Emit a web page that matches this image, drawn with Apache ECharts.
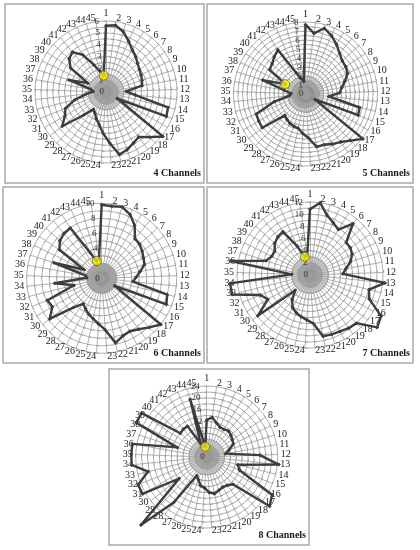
<!DOCTYPE html>
<html><head><meta charset="utf-8">
<script src="https://cdn.jsdelivr.net/npm/echarts/dist/echarts.min.js"></script>
<style>html,body{margin:0;padding:0;background:#fff}#c{width:420px;height:550px}</style>
</head><body><div id="c"></div>
<script>
const categories = ['1','2','3','4','5','6','7','8','9','10','11','12','13','14','15','16','17','18','19','20','21','22','23','24','25','26','27','28','29','30','31','32','33','34','35','36','37','38','39','40','41','42','43','44','45'];

const ch4 = [5.6,5.7,5.3,4.7,4.2,3.9,3.6,3.4,3.3,3.2, 3.1,1.7,2.5,5.4,5.5,1.1,6.1,5.3,4.7,4.9, 5.2,5.4,4.3,3.5,2.8,2.4,2.0,1.8,2.7,4.7, 4.0,3.7,2.7,1.7,1.1,1.3,3.3,1.7,3.6,4.2, 4.4,3.7,2.5,1.8,1.4];
const ch5 = [7.7,6.8,7.6,7.1,6.5,5.9,5.5,5.4,5.2,4.6, 4.1,3.8,2.6,6.2,6.3,1.2,8.1,7.2,6.6,6.3, 6.0,6.0,4.9,4.4,3.9,3.8,3.7,3.5,3.3,6.1, 6.0,5.9,3.6,1.8,1.6,2.4,5.0,2.5,4.8,5.0, 5.4,5.8,2.6,1.8,1.4];
const ch6 = [9.8,9.7,9.9,9.3,8.3,6.9,6.8,6.5,6.2,6.0, 5.2,4.6,4.2,9.0,9.3,2.0,10.0,9.1,8.4,8.0, 8.2,8.8,6.9,6.1,5.5,5.1,4.6,4.2,5.4,8.8, 7.6,7.8,3.8,6.3,2.0,2.2,6.7,2.6,6.8,7.5, 7.8,7.9,3.7,2.4,2.6];
const ch7 = [10.8,12.0,10.2,9.4,8.8,11.0,8.0,8.0,7.7,7.0, 6.0,5.4,12.4,10.0,10.5,13.5,14.0,11.0,10.8,10.5, 10.4,10.3,8.0,7.4,7.0,6.6,6.1,5.0,3.5,10.9, 8.0,8.8,13.2,13.2,3.0,13.2,7.6,7.0,7.0,7.8, 8.2,8.4,5.2,3.1,3.3];
const ch8 = [12.5,13.5,12.0,11.0,11.0,11.5,11.0,10.5,10.0,8.0, 6.5,18.0,24.5,10.8,12.0,25.5,27.0,12.8,11.8,11.5, 12.0,12.7,12.0,10.5,9.9,8.2,7.1,19.0,32.0,11.8, 25.0,25.0,20.4,25.5,25.5,25.5,10.5,26.5,26.5,12.0, 12.3,12.3,5.0,20.3,3.5];

const axisMax = [6, 8, 10, 12, 24];
const tickStep = [1, 1, 2, 2, 4];
const yellowAxis = ['45', '38', '44', '44', '45'];
const yellowValue = [1.4, 2.5, 2.4, 3.1, 3.5];
const titles = ['4 Channels', '5 Channels', '6 Channels', '7 Channels', '8 Channels'];

const panelValues = [ch4, ch5, ch6, ch7, ch8];

const layout = [
  {cx:106,   cy:92,    r:71, split:12, box:[5,4,199,179]},
  {cx:305.5, cy:94,    r:72, split:16, box:[207,4,206,179]},
  {cx:101.7, cy:278.3, r:75, split:10, box:[3,187,201,176]},
  {cx:310,   cy:275,   r:73, split:12, box:[207,187,206,176]},
  {cx:206.7, cy:457,   r:71, split:12, box:[109,369,200,176]}
];

// ECharts radar runs counter-clockwise; reverse to get clockwise 1..45
const order = [0];
for (let k = categories.length - 1; k >= 1; k--) order.push(k);

function ringColors(L) {
  const w = L.r / L.split, out = [];
  for (let k = 0; k < L.split; k++) {
    const mid = (k + 0.5) * w;
    out.push(mid < 8 ? '#7c7c7c' : mid < 12 ? '#a8a8a8' : mid < 16 ? '#d0d0d0' : 'rgba(255,255,255,0)');
  }
  return out;
}

const radar = [], polar = [], angleAxis = [], radiusAxis = [], series = [], graphic = [];
const gridColor = '#9c9c9c';

layout.forEach((L, i) => {
  radar.push({
    center: [L.cx, L.cy], radius: L.r, startAngle: 90, shape: 'circle', splitNumber: L.split,
    indicator: order.map(k => ({name: categories[k], min: 0, max: axisMax[i]})),
    axisName: {color: '#222', fontFamily: 'Liberation Serif', fontSize: 10},
    nameGap: 3,
    axisLine: {lineStyle: {color: gridColor, width: 0.8}},
    axisTick: {show: true, length: 2.5, lineStyle: {color: gridColor, width: 0.8}},
    splitLine: {lineStyle: {color: gridColor, width: 0.8}},
    splitArea: {show: true, areaStyle: {color: ringColors(L)}}
  });
  polar.push({center: [L.cx, L.cy], radius: L.r});
  angleAxis.push({
    polarIndex: i, type: 'category', data: categories, startAngle: 94, clockwise: true,
    axisLine: {show: false}, axisTick: {show: false}, axisLabel: {show: false}, splitLine: {show: false}
  });
  radiusAxis.push({
    polarIndex: i, type: 'value', min: 0, max: axisMax[i], interval: tickStep[i],
    axisLine: {show: false}, axisTick: {show: false}, splitLine: {show: false},
    axisLabel: {fontSize: 9, color: '#333', fontFamily: 'Liberation Serif', margin: 2}, z: 4
  });
  series.push({
    type: 'radar', radarIndex: i, z: 3,
    symbol: 'diamond', symbolSize: 4,
    lineStyle: {color: '#3d3d3d', width: 2.4},
    itemStyle: {color: '#3d3d3d'},
    data: [{value: order.map(k => panelValues[i][k])}]
  });
  series.push({
    type: 'scatter', coordinateSystem: 'polar', polarIndex: i, z: 6,
    symbolSize: 9,
    itemStyle: {color: '#f6e900', borderColor: '#6b6b3a', borderWidth: 1},
    data: [[yellowValue[i], yellowAxis[i]]]
  });
  const b = L.box;
  graphic.push({
    type: 'rect', shape: {x: b[0], y: b[1], width: b[2], height: b[3]},
    style: {fill: 'transparent', stroke: '#a9a9a9', lineWidth: 1.5}, z: 0
  });
  graphic.push({
    type: 'text', x: b[0] + b[2] - 3, y: b[1] + b[3] - 10,
    style: {text: titles[i], fill: '#1a1a1a', font: 'bold 10px "Liberation Serif"', textAlign: 'right', textVerticalAlign: 'middle'},
    z: 10
  });
});

const chart = echarts.init(document.getElementById('c'));
chart.setOption({
  backgroundColor: '#ffffff',
  animation: false,
  radar, polar, angleAxis, radiusAxis, series, graphic
});
</script></body></html>
